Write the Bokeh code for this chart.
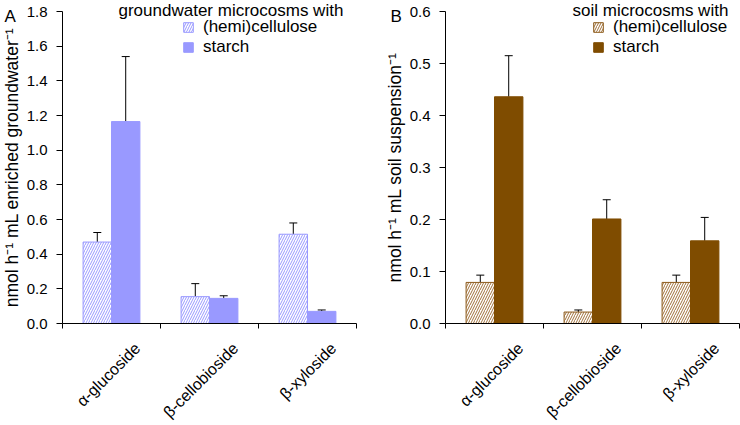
import numpy as np
from bokeh.plotting import figure
from bokeh.layouts import row
from bokeh.models import (ColumnDataSource, Range1d, FixedTicker, PrintfTickFormatter,
                          Whisker, TeeHead, LabelSet, Label, Legend, LegendItem)
from bokeh.core.properties import value
from bokeh.embed import file_html
from bokeh.resources import INLINE

# ---------------- data ----------------
categories = ["α-glucoside", "β-cellobioside", "β-xyloside"]
series_names = ["(hemi)cellulose", "starch"]

gw_hemi = [0.47, 0.155, 0.515]
gw_hemi_err = [0.055, 0.075, 0.065]
gw_starch = [1.165, 0.145, 0.07]
gw_starch_err = [0.375, 0.015, 0.008]

soil_hemi = [0.079, 0.022, 0.079]
soil_hemi_err = [0.014, 0.004, 0.014]
soil_starch = [0.436, 0.201, 0.159]
soil_starch_err = [0.079, 0.037, 0.045]

gw_ticks = [0.0, 0.2, 0.4, 0.6, 0.8, 1.0, 1.2, 1.4, 1.6, 1.8]
soil_ticks = [0.0, 0.1, 0.2, 0.3, 0.4, 0.5, 0.6]

# ---------------- layout constants (pixels) ----------------
FONT = "Liberation Sans"
H = 425
Y_TOP_PX = 11     # pixel row of the highest tick (from figure top)
Y_ZERO_PX = 323   # pixel row of zero
CAT_PX = 98.0     # pixels per category
BAR_W = 0.29


def panel(letter, ylabel, legend_title, hemi, hemi_err, starch, starch_err,
          ticks, hemi_line, hemi_hatch, starch_color, width, axis_px,
          title_x, legend_x, letter_x):
    n = len(categories)
    ymax = ticks[-1]
    ppy = (Y_ZERO_PX - Y_TOP_PX) / ymax
    x_range = Range1d(-axis_px / CAT_PX, (width - axis_px) / CAT_PX)
    y_range = Range1d(-(H - Y_ZERO_PX) / ppy, ymax + Y_TOP_PX / ppy)
    p = figure(width=width, height=H, x_range=x_range, y_range=y_range,
               output_backend="svg", toolbar_location=None,
               min_border=0, min_border_left=0, min_border_right=0,
               min_border_top=0, min_border_bottom=0)
    p.outline_line_color = None
    p.xgrid.visible = False
    p.ygrid.visible = False
    p.background_fill_color = "white"
    p.border_fill_color = "white"

    xa = p.xaxis[0]
    xa.fixed_location = 0
    xa.bounds = (0, n)
    xa.ticker = FixedTicker(ticks=list(range(n + 1)))
    xa.major_label_overrides = {i: "" for i in range(n + 1)}
    xa.major_tick_in = 0
    xa.major_tick_out = 5
    xa.minor_tick_line_color = None
    xa.axis_line_color = "black"
    xa.major_tick_line_color = "black"

    ya = p.yaxis[0]
    ya.fixed_location = 0
    ya.bounds = (ticks[0], ticks[-1])
    ya.ticker = FixedTicker(ticks=ticks)
    ya.formatter = PrintfTickFormatter(format="%.1f")
    ya.major_label_text_font = FONT
    ya.major_label_text_font_size = "15px"
    ya.major_label_text_color = "black"
    ya.major_label_standoff = 9
    ya.major_tick_in = 0
    ya.major_tick_out = 6
    ya.minor_tick_line_color = None
    ya.axis_line_color = "black"
    ya.major_tick_line_color = "black"
    ya.axis_label = ylabel
    ya.axis_label_text_font = FONT
    ya.axis_label_text_font_size = "17.5px"
    ya.axis_label_text_font_style = "normal"
    ya.axis_label_text_color = "black"
    ya.axis_label_standoff = 2

    idx = np.arange(n) + 0.5
    hx = idx - BAR_W / 2
    sx = idx + BAR_W / 2

    src = ColumnDataSource(dict(hx=hx, sx=sx, hemi=hemi, starch=starch,
                                hup=np.array(hemi) + np.array(hemi_err),
                                sup=np.array(starch) + np.array(starch_err)))

    r1 = p.vbar(x="hx", top="hemi", width=BAR_W, source=src,
                fill_color="white", hatch_pattern="/", hatch_color=hemi_hatch,
                hatch_scale=5, hatch_weight=1, line_color=hemi_line, line_width=1)
    r2 = p.vbar(x="sx", top="starch", width=BAR_W, source=src,
                fill_color=starch_color, line_color=starch_color, line_width=1)

    for base, lo, up in (("hx", "hemi", "hup"), ("sx", "starch", "sup")):
        w = Whisker(base=base, lower=lo, upper=up, source=src,
                    line_color="black", line_width=1,
                    lower_head=None,
                    upper_head=TeeHead(size=8, line_color="black", line_width=1))
        p.add_layout(w)

    # category labels, rotated 45 degrees under each category
    lsrc = ColumnDataSource(dict(x=idx, y=np.zeros(n), t=categories))
    labels = LabelSet(x="x", y="y", text="t", source=lsrc, angle=np.pi / 4,
                      text_align="right", text_baseline="middle",
                      x_offset=26, y_offset=-22,
                      text_font=value(FONT), text_font_size=value("16px"),
                      text_color="black")
    p.add_layout(labels)

    legend = Legend(items=[LegendItem(label=series_names[0], renderers=[r1]),
                           LegendItem(label=series_names[1], renderers=[r2])],
                    location=(legend_x, H - 19 - 38),
                    glyph_width=12, glyph_height=12, label_height=19,
                    spacing=0, padding=0, margin=0, label_standoff=9,
                    label_text_font=FONT, label_text_font_size="17px",
                    label_text_color="black",
                    border_line_color=None, background_fill_color=None)
    p.add_layout(legend)

    p.add_layout(Label(x=title_x, y=H - 10, x_units="screen", y_units="screen",
                       text=legend_title, text_baseline="alphabetic",
                       text_font=FONT, text_font_size="17px", text_color="black"))
    p.add_layout(Label(x=letter_x, y=H - 16, x_units="screen", y_units="screen",
                       text=letter, text_baseline="alphabetic",
                       text_font=FONT, text_font_size="17px", text_color="black"))
    return p


pA = panel("A", "nmol h\u207b\u00b9 mL enriched groundwater\u207b\u00b9",
           "groundwater microcosms with",
           gw_hemi, gw_hemi_err, gw_starch, gw_starch_err, gw_ticks,
           "#9999FF", "#9999FF", "#9999FF", 370, 62, 118, 182, 4)
pB = panel("B", "nmol h\u207b\u00b9 mL soil suspension\u207b\u00b9",
           "soil microcosms with",
           soil_hemi, soil_hemi_err, soil_starch, soil_starch_err, soil_ticks,
           "#8C5A1A", "#A0703A", "#7F4C00", 370, 75, 202, 222, 20)

layout = row(pA, pB)
open("out.html", "w").write(file_html(layout, INLINE))
